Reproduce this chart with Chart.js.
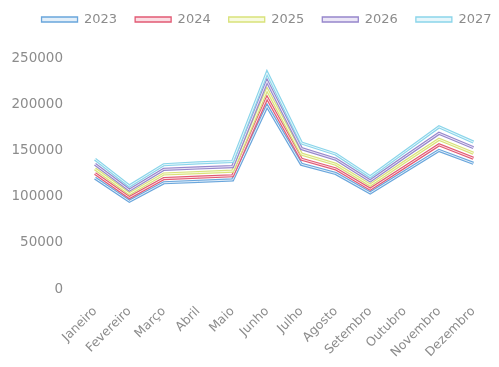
<!DOCTYPE html>
<html>
<head>
<meta charset="utf-8">
<script src="https://cdn.jsdelivr.net/npm/chart.js@4/dist/chart.umd.min.js"></script>
<style>
  html, body { margin: 0; padding: 0; background: #ffffff; }
  #wrap { width: 499px; height: 367px; }
</style>
</head>
<body>
<div id="wrap"><canvas id="c" width="499" height="367"></canvas></div>
<script>
// Monthly totals per year
const months = ['Janeiro', 'Fevereiro', 'Março', 'Abril', 'Maio', 'Junho', 'Julho', 'Agosto', 'Setembro', 'Outubro', 'Novembro', 'Dezembro'];
const years = ['2023', '2024', '2025', '2026', '2027'];

const values2023 = [120000, 95000, 115000, 116500, 118000, 198000, 135000, 125000, 104000, 127000, 150000, 136000];
const values2024 = [125000, 99000, 119500, 121000, 122500, 207000, 140500, 130000, 108000, 132000, 156000, 141500];
const values2025 = [130000, 103000, 124500, 126000, 127500, 216000, 146000, 135000, 112500, 137500, 162000, 147000];
const values2026 = [135000, 107000, 129500, 131000, 132500, 225000, 152000, 140500, 117000, 143000, 168500, 153000];
const values2027 = [140500, 111500, 134500, 136500, 138000, 234000, 158000, 146000, 121500, 148500, 175500, 159000];

const yTicks = [0, 50000, 100000, 150000, 200000, 250000];

// Outer stroke colour and pale inner stroke colour (double line look)
const outerColors = ['#6aa6dc', '#e25a74', '#d9e27a', '#9787cc', '#8ad5ea'];
const innerColors = ['#e3eff9', '#fadde3', '#f7fadf', '#ebe6f6', '#e6f6fb'];

const series = [values2023, values2024, values2025, values2026, values2027];
const TEXT = '#8c8c8c';
const FONT = 'DejaVu Sans';

const datasets = [];
series.forEach((vals, i) => {
  const rank = (series.length - i) * 2;
  datasets.push({
    label: years[i],
    data: vals,
    borderColor: outerColors[i],
    backgroundColor: innerColors[i],
    borderWidth: 3.2,
    pointRadius: 0,
    pointHoverRadius: 0,
    tension: 0,
    fill: false,
    order: rank
  });
  datasets.push({
    label: '',
    data: vals,
    borderColor: innerColors[i],
    backgroundColor: innerColors[i],
    borderWidth: 1,
    pointRadius: 0,
    pointHoverRadius: 0,
    tension: 0,
    fill: false,
    order: rank - 1,
    isInner: true
  });
});

// Extra room below the legend and a horizontal nudge of its row
const legendPlacement = {
  id: 'legendPlacement',
  beforeUpdate(chart, args, opts) {
    const lg = chart.legend;
    if (lg && !lg._gapWrapped) {
      const fit = lg.fit;
      lg.fit = function () { fit.call(this); this.height += opts.gap; };
      lg._gapWrapped = true;
    }
  },
  afterLayout(chart, args, opts) {
    const lg = chart.legend;
    if (lg) { lg.left += opts.shift; lg.right += opts.shift; }
  }
};

new Chart(document.getElementById('c'), {
  type: 'line',
  data: { labels: months, datasets },
  plugins: [legendPlacement],
  options: {
    responsive: false,
    animation: false,
    layout: { padding: { top: -5, left: 4, right: 4, bottom: 0 } },
    plugins: {
      legendPlacement: { gap: 22, shift: 17 },
      tooltip: { enabled: false },
      legend: {
        position: 'top',
        labels: {
          font: { family: FONT, size: 13 },
          color: TEXT,
          boxWidth: 36,
          boxHeight: 5,
          padding: 18,
          filter: (item, data) => !data.datasets[item.datasetIndex].isInner,
          sort: (a, b) => a.datasetIndex - b.datasetIndex,
          generateLabels(chart) {
            const items = Chart.defaults.plugins.legend.labels.generateLabels(chart);
            items.forEach(it => {
              const ds = chart.data.datasets[it.datasetIndex];
              it.fillStyle = ds.backgroundColor;
              it.strokeStyle = ds.borderColor;
              it.lineWidth = 1.3;
            });
            return items;
          }
        }
      }
    },
    scales: {
      x: {
        type: 'category',
        offset: false,
        grid: { display: false, drawTicks: false },
        border: { display: false },
        ticks: {
          autoSkip: false,
          minRotation: 45,
          maxRotation: 45,
          padding: 15,
          color: TEXT,
          font: { family: FONT, size: 12.5 }
        },
        afterFit(scale) { scale.height = 78; }
      },
      y: {
        min: 0,
        max: 250000,
        grid: { display: false, drawTicks: false },
        border: { display: false },
        afterBuildTicks(scale) { scale.ticks = yTicks.map(v => ({ value: v })); },
        ticks: {
          padding: 32,
          color: TEXT,
          font: { family: FONT, size: 13.5 },
          callback: (v) => String(v)
        },
        afterFit(scale) { scale.width = 91; }
      }
    }
  }
});
</script>
</body>
</html>
